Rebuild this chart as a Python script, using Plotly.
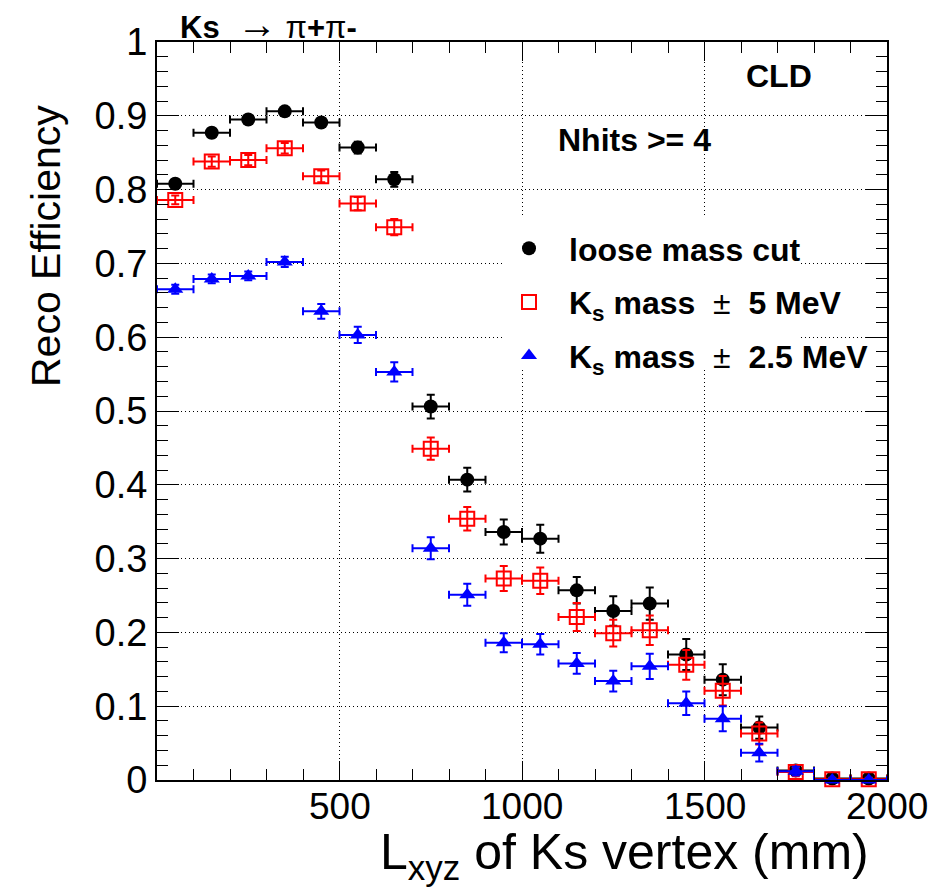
import plotly.graph_objects as go

# ---------------- data ----------------
bin_centers = [50, 150, 250, 350, 450, 550, 650, 750, 850, 950,
               1050, 1150, 1250, 1350, 1450, 1550, 1650, 1750, 1850, 1950]
bin_half_width = [50] * 20

eff_loose = [0.808, 0.877, 0.895, 0.906, 0.891, 0.857, 0.814, 0.506, 0.407, 0.336,
             0.327, 0.257, 0.229, 0.239, 0.170, 0.136, 0.071, 0.013, 0.002, 0.002]
err_loose = [0.006, 0.006, 0.006, 0.006, 0.006, 0.008, 0.010, 0.016, 0.016, 0.017,
             0.019, 0.018, 0.020, 0.022, 0.021, 0.021, 0.015, 0.006, 0.002, 0.002]

eff_5mev = [0.786, 0.838, 0.840, 0.856, 0.818, 0.781, 0.749, 0.449, 0.354, 0.273,
            0.270, 0.221, 0.199, 0.203, 0.156, 0.121, 0.063, 0.011, 0.001, 0.001]
err_5mev = [0.006, 0.007, 0.007, 0.007, 0.008, 0.009, 0.011, 0.015, 0.016, 0.017,
            0.018, 0.019, 0.018, 0.020, 0.020, 0.020, 0.015, 0.006, 0.002, 0.002]

eff_25mev = [0.665, 0.679, 0.683, 0.702, 0.635, 0.603, 0.553, 0.314, 0.251, 0.186,
             0.184, 0.158, 0.134, 0.154, 0.104, 0.083, 0.037, 0.012, 0.000, 0.000]
err_25mev = [0.006, 0.006, 0.006, 0.007, 0.010, 0.011, 0.013, 0.015, 0.015, 0.013,
             0.014, 0.014, 0.014, 0.017, 0.016, 0.017, 0.012, 0.006, 0.002, 0.002]

x_tick_vals = [500, 1000, 1500, 2000]
x_tick_text = ["500", "1000", "1500", "2000"]
y_tick_vals = [0, 0.1, 0.2, 0.3, 0.4, 0.5, 0.6, 0.7, 0.8, 0.9, 1]
y_tick_text = ["0", "0.1", "0.2", "0.3", "0.4", "0.5", "0.6", "0.7", "0.8", "0.9", "1"]

# ---------------- layout geometry ----------------
W, H = 937, 893
L, R, T, B = 157, 887, 42, 780
XMIN, XMAX, YMIN, YMAX = 0, 2000, 0, 1
FONT = "Liberation Sans, Arial, Helvetica, sans-serif"


def px(xp):
    return (xp - L) / (R - L)


def py(yp):
    return (B - yp) / (B - T)


def dx(xp):
    return XMIN + (xp - L) / (R - L) * (XMAX - XMIN)


def dy(yp):
    return YMIN + (B - yp) / (B - T) * (YMAX - YMIN)


fig = go.Figure()

series = [
    ("<b>loose mass cut</b>", eff_loose, err_loose, "black",
     dict(symbol="circle", size=14, color="black")),
    ("<b>K<sub>s</sub> mass&nbsp;</b> ± &nbsp;<b>5 MeV</b>", eff_5mev, err_5mev, "red",
     dict(symbol="square-open", size=14, color="red", line=dict(width=2, color="red"))),
    ("<b>K<sub>s</sub> mass&nbsp;</b> ± &nbsp;<b>2.5 MeV</b>", eff_25mev, err_25mev, "blue",
     dict(symbol="triangle-up", size=14, color="blue")),
]

for i, (name, vals, errs, col, mk) in enumerate(series):
    fig.add_trace(go.Scatter(
        x=bin_centers, y=vals, mode="markers", name=name,
        marker=mk, cliponaxis=False, legendgroup=f"g{i}",
        error_x=dict(type="data", array=bin_half_width, color=col, thickness=2, width=4),
        error_y=dict(type="data", array=errs, color=col, thickness=2, width=4),
    ))

axis_common = dict(
    showline=True, linecolor="black", linewidth=2, mirror="ticks",
    ticks="inside", tickcolor="black", tickwidth=1,
    showgrid=True, gridcolor="black", gridwidth=1, griddash="1px,3px",
    zeroline=False,
)

fig.update_xaxes(
    range=[XMIN, XMAX], tickmode="array", tickvals=x_tick_vals, showticklabels=False,
    ticklen=19,
    minor=dict(dtick=100, tick0=0, ticklen=11, ticks="inside", tickcolor="black", showgrid=False),
    **axis_common,
)
fig.update_yaxes(
    range=[YMIN, YMAX], tickmode="array", tickvals=y_tick_vals, ticktext=y_tick_text,
    ticklen=22, tickfont=dict(family=FONT, size=38, color="black"),
    minor=dict(dtick=0.02, tick0=0, ticklen=11, ticks="inside", tickcolor="black", showgrid=False),
    **axis_common,
)

# white legend box (covers grid lines); legend itself is drawn on top of shapes
fig.add_shape(type="rect", xref="x", yref="y",
              x0=dx(505), x1=dx(800), y0=dy(370), y1=dy(218),
              fillcolor="white", line=dict(width=0), layer="above")

# x tick labels
for v, t in zip(x_tick_vals, x_tick_text):
    fig.add_annotation(text=t, x=v, xref="x", y=py(806), yref="paper",
                       xanchor="center", yanchor="middle", showarrow=False,
                       font=dict(family=FONT, size=37, color="black"))

annotations = [
    dict(text="<b>Ks</b>&nbsp; <span style='font-size:40px'>→</span> π<b>+</b>π<b>-</b>",
         x=px(178), y=py(24), xanchor="left", yanchor="middle", font=dict(size=31)),
    dict(text="<b>CLD</b>", x=px(779), y=py(76), xanchor="center", yanchor="middle",
         font=dict(size=32)),
    dict(text="<b>Nhits >= 4</b>", x=px(634), y=py(140), xanchor="center", yanchor="middle",
         font=dict(size=32)),
    dict(text="Reco Efficiency", x=px(46), y=py(246), xanchor="center", yanchor="middle",
         textangle=-90, font=dict(size=41)),
    dict(text="L<sub>xyz</sub> of Ks vertex (mm)", x=px(871), y=py(856), xanchor="right",
         yanchor="middle", font=dict(size=50)),
]
for a in annotations:
    a.update(xref="paper", yref="paper", showarrow=False)
    f = dict(family=FONT, color="black")
    f.update(a["font"])
    a["font"] = f
    fig.add_annotation(**a)

fig.update_layout(
    width=W, height=H,
    margin=dict(l=L, r=W - R, t=T, b=H - B),
    plot_bgcolor="white", paper_bgcolor="white",
    showlegend=True,
    legend=dict(
        x=px(489), y=py(221), xanchor="left", yanchor="top",
        bgcolor="rgba(0,0,0,0)", borderwidth=0,
        font=dict(family=FONT, size=32, color="black"),
        itemwidth=70, traceorder="grouped", tracegroupgap=9,
    ),
)

fig.write_html("out.html")
